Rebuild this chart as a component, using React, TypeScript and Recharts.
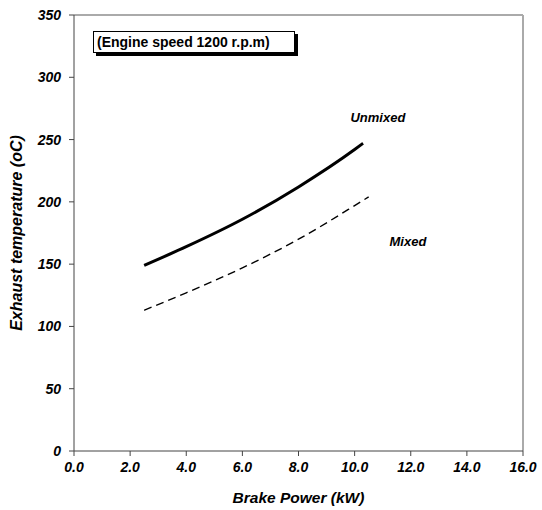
import React from 'react';
import { LineChart, Line, XAxis, YAxis, ReferenceLine, ReferenceDot } from 'recharts';

const unmixedPower = [2.5, 4.0, 6.0, 8.0, 10.0, 10.3];
const unmixedTemp = [149, 164, 186, 212, 242, 247];

const mixedPower = [2.5, 4.0, 6.0, 8.0, 10.0, 10.5];
const mixedTemp = [113, 127, 147, 170, 197, 204];

const xTicks = [0, 2, 4, 6, 8, 10, 12, 14, 16];
const yTicks = [0, 50, 100, 150, 200, 250, 300, 350];

const FONT = 'Arial, "Liberation Sans", sans-serif';

const unmixedData = unmixedPower.map((p, i) => ({ power: p, temp: unmixedTemp[i] }));
const mixedData = mixedPower.map((p, i) => ({ power: p, temp: mixedTemp[i] }));

const tickStyle = { fontSize: 14, fontWeight: 'bold', fontStyle: 'italic', fill: '#000', fontFamily: FONT };

const SeriesLabel = (props: any) => {
    const { viewBox, value } = props;
    return (
        <text x={viewBox.x} y={viewBox.y} textAnchor="middle" dominantBaseline="central"
            fontSize={13} fontWeight="bold" fontStyle="italic" fontFamily={FONT} fill="#000">
            {value}
        </text>
    );
};

export default function App() {
    return (
        <div style={{ position: 'absolute', left: 0, top: 0, width: 542, height: 510, background: '#fff' }}>
            <LineChart width={542} height={510} margin={{ top: 15, right: 19, left: 0, bottom: 0 }}>
                <XAxis
                    type="number"
                    dataKey="power"
                    domain={[0, 16]}
                    ticks={xTicks}
                    tickFormatter={(v: number) => v.toFixed(1)}
                    height={59}
                    stroke="#444"
                    tickSize={5}
                    tickMargin={6}
                    tick={tickStyle}
                    label={{ value: 'Brake Power (kW)', position: 'insideBottom', offset: 7, style: { ...tickStyle, fontSize: 15.5 } }}
                />
                <YAxis
                    type="number"
                    dataKey="temp"
                    domain={[0, 350]}
                    ticks={yTicks}
                    width={74}
                    stroke="#444"
                    tickSize={5}
                    tickMargin={8}
                    tick={tickStyle}
                    label={{ value: 'Exhaust temperature (oC)', angle: -90, position: 'insideLeft', offset: 16, style: { ...tickStyle, fontSize: 16, textAnchor: 'middle' } }}
                />
                <ReferenceLine y={350} stroke="#aaa" strokeWidth={2} />
                <ReferenceLine x={16} stroke="#aaa" strokeWidth={2} />
                <Line data={unmixedData} dataKey="temp" type="monotone" stroke="#000" strokeWidth={3} dot={false} isAnimationActive={false} />
                <Line data={mixedData} dataKey="temp" type="monotone" stroke="#000" strokeWidth={1.4} strokeDasharray="8 5" dot={false} isAnimationActive={false} />
                <ReferenceDot x={10.83} y={268} r={0} stroke="none" label={<SeriesLabel value="Unmixed" />} />
                <ReferenceDot x={11.9} y={168} r={0} stroke="none" label={<SeriesLabel value="Mixed" />} />
            </LineChart>
            <div style={{
                position: 'absolute', left: 93, top: 31, width: 197, height: 20,
                border: '1px solid #000', boxShadow: '3px 3px 0 #000', background: '#fff',
                fontFamily: FONT, fontWeight: 'bold', fontSize: 14, lineHeight: '20px',
                paddingLeft: 3, boxSizing: 'content-box', color: '#000', whiteSpace: 'nowrap'
            }}>
                (Engine speed 1200 r.p.m)
            </div>
        </div>
    );
}
